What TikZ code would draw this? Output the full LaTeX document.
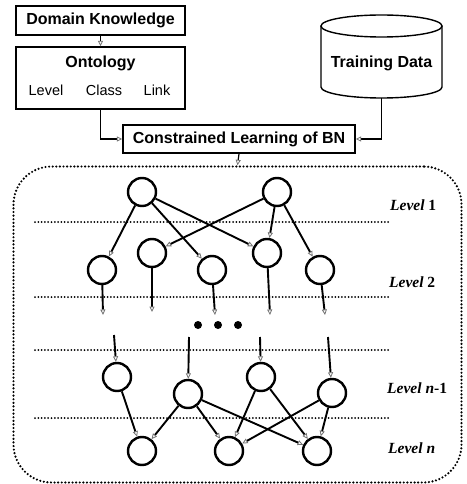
\documentclass[tikz,border=0pt]{standalone}
\usepackage{fontspec}
\setmainfont{Liberation Serif}
\newfontfamily\boxfont{Liberation Sans}
\usetikzlibrary{arrows.meta}

\tikzset{
  box/.style={draw, line width=1.4pt, inner sep=0pt,
    font=\boxfont\bfseries\fontsize{16}{19}\selectfont},
  boxtitle/.style={inner sep=0pt, font=\boxfont\bfseries\fontsize{16}{19}\selectfont},
  boxitem/.style={inner sep=0pt, font=\boxfont\fontsize{14.5}{17}\selectfont},
  bn/.style={circle, draw, line width=2.4pt, minimum size=28pt, inner sep=0pt},
  opentip/.tip={Triangle[open, fill=white, length=5.5pt, width=5pt, line width=0.8pt, color=black!55]},
  flow/.style={line width=1.2pt, -opentip},
  link/.style={line width=1.9pt, -opentip},
  sep/.style={line width=2pt, dash pattern=on 0pt off 3.3pt, line cap=round},
  frame/.style={draw, line width=2.4pt, dash pattern=on 0pt off 3.6pt, line cap=round,
    rounded corners=38pt, inner sep=0pt},
  lvl/.style={anchor=west, inner sep=0pt, font=\fontsize{15.5}{18}\selectfont\bfseries\itshape},
  dotmark/.style={circle, fill=black, minimum size=8pt, inner sep=0pt},
}

\begin{document}
\begin{tikzpicture}[x=1pt, y=1pt]
  \useasboundingbox (0,0) rectangle (466,-484);

  % ---- input blocks ----
  \node[box, minimum width=169pt, minimum height=29pt] (dk) at (100.5,-20.5) {Domain Knowledge};
  \node[box, minimum width=169pt, minimum height=62pt] (ont) at (100.5,-78) {};
  \node[boxtitle] (ontT) at (100.5,-63) {Ontology};
  \node[boxitem] (ontL) at (46,-90) {Level};
  \node[boxitem] (ontC) at (104,-90) {Class};
  \node[boxitem] (ontK) at (157,-90) {Link};

  % training data drum
  \draw[line width=1.4pt] (321,-26) -- (321,-87)
    arc[start angle=180, end angle=360, x radius=60.5, y radius=11] -- (442,-26);
  \draw[line width=1.4pt] (381.5,-26) ellipse [x radius=60.5, y radius=11];
  \node[boxtitle] (td) at (381.5,-63) {Training Data};
  \coordinate (tdb) at (381.5,-98);

  \node[box, minimum width=232pt, minimum height=28pt] (cl) at (239,-139) {Constrained Learning of BN};

  \draw[flow] (dk.south) -- (ont.north);
  \draw[flow] (ont.south) |- (cl.west);
  \draw[flow] (tdb) |- (cl.east);

  % ---- network frame ----
  \node[frame, minimum width=448pt, minimum height=316pt] (net) at (237.5,-324.5) {};
  \draw[flow] (cl.south) -- (net.north);

  % level separators
  \draw[sep] (35,-222) -- (389,-222);
  \draw[sep] (35,-297) -- (389,-297);
  \draw[sep] (35,-350) -- (389,-350);
  \draw[sep] (35,-418) -- (389,-418);

  % level labels
  \node[lvl] (lab1) at (390,-205) {Level \upshape 1};
  \node[lvl] (lab2) at (389,-282) {Level \upshape 2};
  \node[lvl] (lab3) at (387,-388) {Level n\upshape -1};
  \node[lvl] (lab4) at (388,-448) {Level n};

  % level 1
  \node[bn] (a1) at (142,-192) {};
  \node[bn] (a2) at (277,-192) {};
  % level 2
  \node[bn] (b1) at (102,-270) {};
  \node[bn] (b2) at (152,-253) {};
  \node[bn] (b3) at (212,-270) {};
  \node[bn] (b4) at (267,-253) {};
  \node[bn] (b5) at (320,-270) {};
  % level n-1
  \node[bn] (c1) at (117,-377) {};
  \node[bn] (c2) at (188,-394) {};
  \node[bn] (c3) at (261,-377) {};
  \node[bn] (c4) at (332,-393) {};
  % level n
  \node[bn] (d1) at (142,-451) {};
  \node[bn] (d2) at (229,-451) {};
  \node[bn] (d3) at (317,-451) {};

  % ellipsis between levels
  \node[dotmark] (e1) at (198,-325) {};
  \node[dotmark] (e2) at (218,-325) {};
  \node[dotmark] (e3) at (238,-325) {};

  % edges level 1 -> level 2
  \draw[link] (a1) -- (b1);
  \draw[link] (a1) -- (b3);
  \draw[link] (a1) -- (b4);
  \draw[link] (a2) -- (b2);
  \draw[link] (a2) -- (b4);
  \draw[link] (a2) -- (b5);

  % edges leaving level 2
  \coordinate (o1) at (103,-315);
  \coordinate (o2) at (152,-312);
  \coordinate (o3) at (215,-315);
  \coordinate (o4) at (270,-315);
  \coordinate (o5) at (325,-315);
  \draw[link] (b1) -- (o1);
  \draw[link] (b2) -- (o2);
  \draw[link] (b3) -- (o3);
  \draw[link] (b4) -- (o4);
  \draw[link] (b5) -- (o5);

  % edges entering level n-1
  \coordinate (i1) at (114,-335);
  \coordinate (i2) at (189,-337);
  \coordinate (i3) at (260,-337);
  \coordinate (i4) at (328,-337);
  \draw[link] (i1) -- (c1);
  \draw[link] (i2) -- (c2);
  \draw[link] (i3) -- (c3);
  \draw[link] (i4) -- (c4);

  % edges level n-1 -> level n
  \draw[link] (c1) -- (d1);
  \draw[link] (c2) -- (d1);
  \draw[link] (c2) -- (d2);
  \draw[link] (c2) -- (d3);
  \draw[link] (c3) -- (d2);
  \draw[link] (c3) -- (d3);
  \draw[link] (c4) -- (d2);
  \draw[link] (c4) -- (d3);
\end{tikzpicture}
\end{document}
